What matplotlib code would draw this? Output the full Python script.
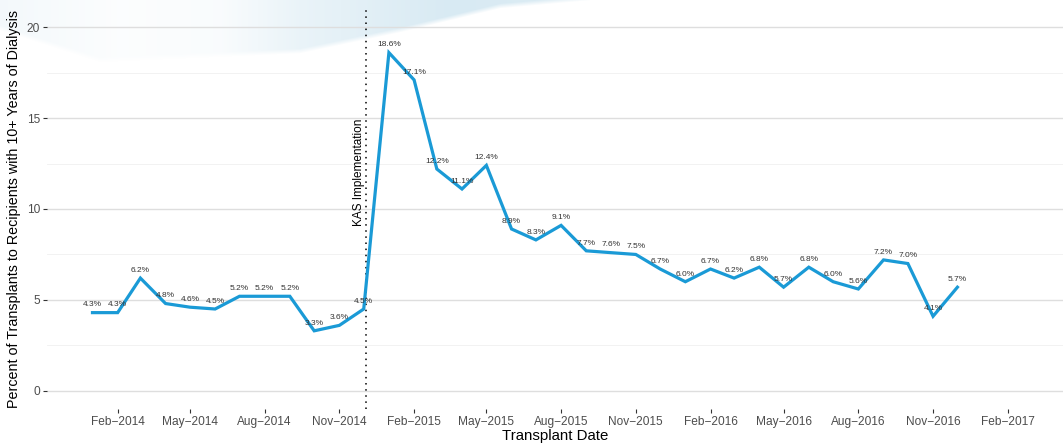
import numpy as np
import pandas as pd
import matplotlib
matplotlib.use("Agg")
import matplotlib.pyplot as plt
import matplotlib.dates as mdates

# ---- data ----
months = pd.date_range("2014-01-01", "2016-12-01", freq="MS")
pct_2014 = [4.3, 4.3, 6.2, 4.8, 4.6, 4.5, 5.2, 5.2, 5.2, 3.3, 3.6, 4.5]
pct_2015 = [18.6, 17.1, 12.2, 11.1, 12.4, 8.9, 8.3, 9.1, 7.7, 7.6, 7.5, 6.7]
pct_2016 = [6.0, 6.7, 6.2, 6.8, 5.7, 6.8, 6.0, 5.6, 7.2, 7.0, 4.1, 5.7]
values = pct_2014 + pct_2015 + pct_2016
kas_date = pd.Timestamp("2014-12-04")
kas_label = "KAS Implementation"
xlabel = "Transplant Date"
ylabel = "Percent of Transplants to Recipients with 10+ Years of Dialysis"
yticks = [0, 5, 10, 15, 20]

plt.rcParams['font.family'] = ['Liberation Sans', 'DejaVu Sans']

W, H = 1063, 446
fig = plt.figure(figsize=(W / 100, H / 100), dpi=100)
fig.patch.set_facecolor("white")

# ---- decorative background swoosh ----
bg = fig.add_axes([0, 0, 1, 1], zorder=0)
bg.axis("off")
xx, yy = np.meshgrid(np.arange(W), np.arange(H))
edge = np.interp(xx, [0, 100, 300, 400, 500, 590, 700], [30, 62, 53, 32, 8, 0, -10])
inside = np.clip((edge - yy) / 5.0, 0, 1)
inten = np.interp(xx, [0, 120, 220, 300, 450, 580], [0.3, 0.08, 0.15, 0.55, 1.0, 0.9])
alpha = inside * inten
img = np.zeros((H, W, 4))
img[..., 0] = 0.85
img[..., 1] = 0.92
img[..., 2] = 0.955
img[..., 3] = alpha
bg.imshow(img, extent=[0, 1, 0, 1], aspect="auto", origin="upper")
bg.set_xlim(0, 1)
bg.set_ylim(0, 1)

# ---- main plot ----
ax = fig.add_axes([47 / W, (H - 409) / H, 1 - 47 / W, 400 / H], zorder=1)
ax.set_facecolor("none")

ax.plot(months, values, color="#1a9ad6", lw=2.3, solid_joinstyle="miter", zorder=3)
for d, v in zip(months, values):
    ax.annotate(f"{v:.1f}%", (d, v), xytext=(0, 5.5), textcoords="offset points",
                ha="center", va="center", fontsize=6, color="#333333", zorder=4)

ax.axvline(kas_date, color="black", lw=1.1, ls=(0, (1, 3)), zorder=2)
ax.text(kas_date - pd.Timedelta(days=2), 12, kas_label, rotation=90,
        ha="right", va="center", fontsize=8.5, color="black")

ax.set_ylim(-1, 21)
ax.set_xlim(pd.Timestamp("2013-11-06"), pd.Timestamp("2017-04-10"))
ax.set_yticks(yticks)
ax.set_yticks([2.5, 7.5, 12.5, 17.5], minor=True)
ax.xaxis.set_major_locator(mdates.MonthLocator(bymonth=[2, 5, 8, 11]))
ax.xaxis.set_major_formatter(mdates.DateFormatter("%b\u2212%Y"))

ax.grid(which="major", axis="y", color="#dedede", lw=1.0)
ax.grid(which="minor", axis="y", color="#f0f0f0", lw=0.6)
ax.set_axisbelow(True)
for s in ax.spines.values():
    s.set_visible(False)
ax.tick_params(axis="both", which="major", length=3, width=0.8, color="#333333",
               labelcolor="#4d4d4d", labelsize=8.6, pad=2)
ax.tick_params(axis="both", which="minor", length=0)

ax.set_xlabel(xlabel, fontsize=10.8, color="black", labelpad=1)
ax.set_ylabel(ylabel, fontsize=10.3, color="black", labelpad=4)

fig.savefig("out.png", dpi=100, facecolor="white")
